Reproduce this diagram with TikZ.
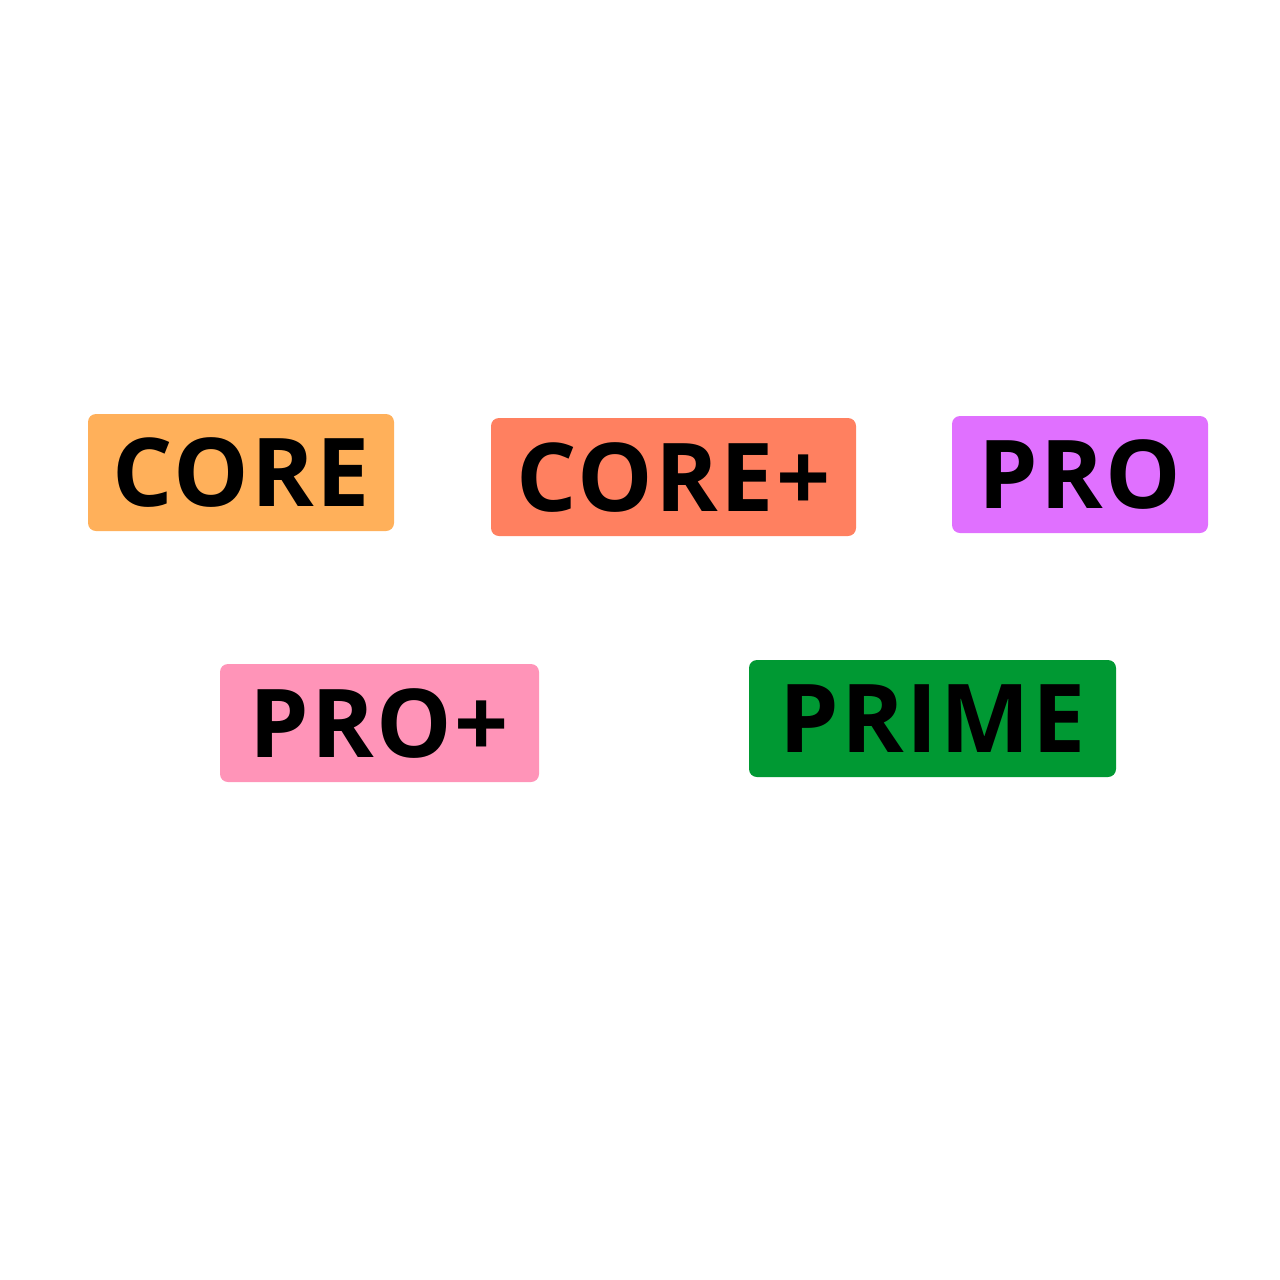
\documentclass[tikz,border=0pt]{standalone}
\usepackage{fontspec}
\setmainfont{Open Sans}[BoldFont={Open Sans Bold}, BoldFeatures={LetterSpace=2.5}]
\definecolor{corec}{HTML}{FFB05A}
\definecolor{corepc}{HTML}{FF8060}
\definecolor{proc}{HTML}{E070FF}
\definecolor{propc}{HTML}{FF94B8}
\definecolor{primec}{HTML}{009933}
\tikzset{
  tag/.style={rounded corners=8pt, inner sep=0pt, text=black,
    font=\fontsize{95}{100}\selectfont\bfseries,
    text height=68pt, text depth=0pt, align=center}
}
\begin{document}
\begin{tikzpicture}[x=1pt,y=-1pt]
\useasboundingbox (0,0) rectangle (1280,1280);
\node[tag, fill=corec, minimum width=306pt, minimum height=117pt] (core) at (241,472.5) {CORE};
\node[tag, fill=corepc, minimum width=365pt, minimum height=118pt] (corep) at (673.5,477) {CORE+};
\node[tag, fill=proc, minimum width=256pt, minimum height=117pt] (pro) at (1080,474.5) {PRO};
\node[tag, fill=propc, minimum width=319pt, minimum height=118pt] (prop) at (379.5,723) {PRO+};
\node[tag, fill=primec, minimum width=367pt, minimum height=117pt] (prime) at (932.5,718.5) {PRIME};
\end{tikzpicture}
\end{document}
